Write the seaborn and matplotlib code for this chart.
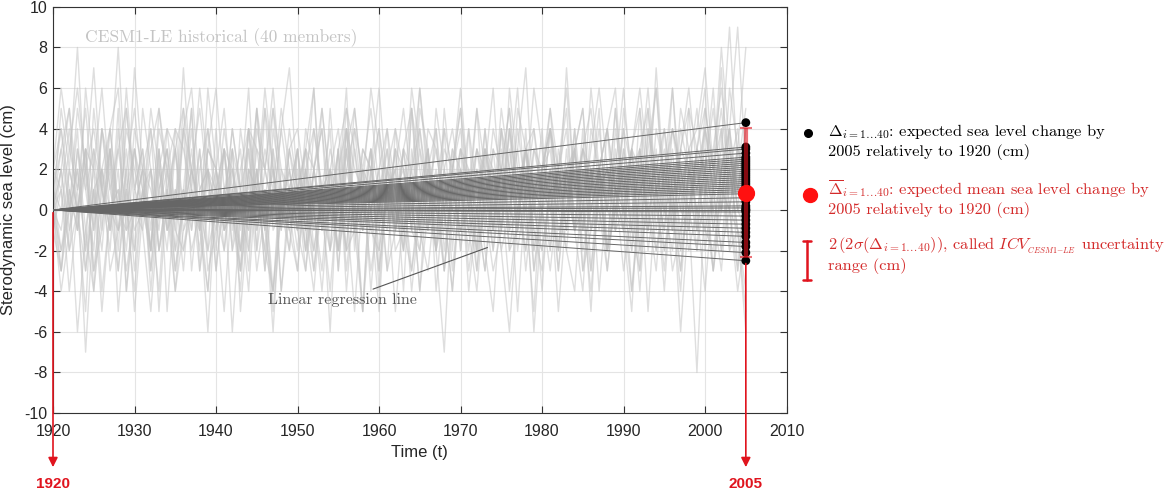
import numpy as np
import pandas as pd
import matplotlib
matplotlib.use("Agg")
import matplotlib.pyplot as plt
from matplotlib.lines import Line2D
import seaborn as sns

start_year = 1920
end_year = 2005

# rough annual sterodynamic sea level (cm) of the grey ensemble members, 1920..2005
members = [
    [0, 2, -1, 3, 1, -2, 4, 0, -3, 2, 5, 1, -2, 3, -1, 0, 4, -3, 1, 2, -2, 3, 0, -4, 2, 1, 5, -1, 0, 3, 1, -3, 2, 4, -2, 0, 3, -1, 2, -4, 1, 3, 0, -2, 5, 2, -1, 1, -3, 2, 4, 0, -2, 3, 1, -1, 6, 2, -3, 1, 0, 4, -2, 2, 3, -1, 1, 5, -2, 0, 3, 1, -4, 2, 6, 0, -1, 3, 2, -2, 4, 1, 7, 0, 3, 2],
    [1, -3, 2, 0, -5, 3, 1, -2, 4, -1, 0, 2, -4, 1, 3, -2, 0, 5, -3, 2, 1, -1, 3, -5, 0, 2, -3, 4, 1, -2, 3, 0, -2, 1, -6, 2, 4, -1, 0, 3, -3, 1, 2, -4, 3, 0, -1, 4, -2, 1, 2, -3, 0, 3, -1, 4, -2, 1, 0, -5, 2, 3, -1, 0, 4, -3, 1, 2, -2, 3, 0, -1, 5, -2, 1, 3, 0, -4, 2, 1, 3, -1, 2, 4, 0, 1],
    [2, 4, 1, -1, 6, 2, 0, 3, -2, 5, 1, 3, -1, 4, 2, 0, 7, 1, -2, 3, 2, 5, 0, 1, -3, 4, 2, 6, 1, 0, 3, -1, 2, 5, 1, -2, 4, 0, 3, 2, 6, 1, -1, 3, 2, 4, 0, -2, 5, 1, 3, 2, 0, 4, -1, 2, 5, 1, 3, 0, 4, -2, 2, 6, 1, 3, 0, 2, 4, -1, 5, 2, 3, 0, 7, 1, 4, 2, -1, 3, 5, 2, 8, 3, 1, 4],
    [-1, 1, -4, 0, 2, -3, -1, 3, -5, 0, -2, 1, -3, 2, 0, -4, 1, -1, 3, -2, 0, -5, 1, -2, 2, -3, 0, -6, 1, -1, -3, 2, 0, -4, 1, -2, 3, -1, -5, 0, 2, -3, -1, 1, -4, 0, 2, -2, -7, 1, -1, 0, -3, 2, -2, 1, -4, 0, 3, -1, -2, 1, -5, 0, 2, -3, -1, 1, -2, 0, 2, -4, 0, -1, 3, -2, 0, -3, 1, -1, 0, -3, 2, -2, -1, -4],
    [0, 3, 5, -1, 2, 7, 1, 4, 0, 3, -2, 5, 2, 0, 3, -1, 4, 6, 1, 2, 0, 3, -2, 4, 1, 5, 0, 2, -1, 3, 4, 1, 6, 0, 2, -3, 3, 5, 1, 0, 2, 4, -1, 3, 0, 6, 2, 1, 4, -2, 3, 0, 5, 2, -1, 4, 1, 3, 7, 0, 2, 4, 1, -2, 3, 5, 0, 2, 4, 1, -1, 3, 6, 2, 0, 4, 1, -2, 5, 3, 2, 6, 0, 4, 9, 2],
    [1, -2, 0, 4, -3, 1, 2, -1, 5, -4, 0, 2, -2, 3, -5, 1, 0, 4, -1, 2, -3, 1, 3, -2, 0, 5, -1, 2, -4, 1, 0, 3, -2, 1, 4, -3, 2, 0, -1, 3, -4, 2, 1, -2, 5, 0, 3, -1, 2, -3, 1, 4, -2, 0, 3, -1, 2, -5, 1, 4, 0, -2, 3, 1, -1, 4, -3, 2, 0, 5, -1, 2, -3, 4, 1, 0, -2, 3, 5, -1, 2, 0, 4, -2, 3, 1],
    [0, 5, 2, 8, 1, 3, -1, 4, 6, 0, 3, 1, -2, 5, 2, 4, 0, 3, -1, 6, 2, 0, 4, 1, 3, -2, 5, 2, 0, 4, 1, 3, 6, -1, 2, 4, 0, 5, 1, 3, -1, 2, 4, 0, 6, 3, 1, -2, 4, 2, 5, 0, 3, 1, -1, 4, 2, 6, 0, 3, 1, 5, 2, -1, 4, 0, 3, 6, 2, 1, 4, -1, 3, 5, 1, 2, 6, 0, 3, 4, 7, 2, 5, 1, 3, 8],
    [0, -3, 1, -6, -1, 2, -4, 0, 1, -2, 3, -1, -5, 0, 2, -3, 1, -2, 0, -4, 2, -1, 0, -3, 4, -2, 1, -5, 0, 2, -1, -3, 1, 0, -2, 3, -4, 1, -1, 0, -5, 2, 0, -1, -3, 1, 3, -2, 0, -4, 1, -2, 2, 0, -3, -1, 4, -2, 1, -6, 0, 2, -3, 1, -1, -4, 2, 0, -2, 1, -3, 0, 2, -5, 1, -1, 3, -2, 0, -8, 1, -3, 0, 2, -1, -5],
    [2, 1, 4, 0, 3, 2, 6, 1, -1, 4, 2, 0, 3, 5, 1, -2, 4, 2, 0, 3, 6, 1, 2, -1, 4, 3, 0, 5, 2, 1, 3, -2, 4, 1, 2, 0, 5, 3, -1, 2, 4, 1, 0, 3, 5, -1, 2, 4, 0, 3, 2, 1, 5, -1, 3, 2, 0, 4, 1, 6, 3, 0, 2, 4, -1, 3, 5, 1, 2, 0, 4, 2, -1, 3, 6, 1, 0, 4, 2, 5, 1, 3, 6, 2, 4, 0],
    [-1, 2, -2, 0, 3, -3, 1, -1, 2, -4, 1, 0, -2, 3, -1, 1, -3, 2, 0, -2, 4, -1, 0, -3, 2, 1, -2, 3, -4, 0, 1, -2, 2, -1, 0, 3, -3, 1, -5, 2, 0, -1, 3, -2, 1, -4, 2, 0, -1, 3, -2, 1, 0, -3, 2, -1, 3, 0, -2, 1, -4, 2, 1, -1, 3, -2, 0, 2, -3, 1, 0, -2, 3, -1, 1, -4, 2, 0, -1, 3, -2, 1, 0, 4, -3, 1],
    [1, 4, 0, 2, -2, 5, 1, 3, 0, -1, 4, 2, -3, 1, 3, 0, 5, -1, 2, 4, 0, -2, 3, 1, 6, -1, 2, 0, 4, 1, -2, 3, 0, 5, 1, -1, 2, 4, 0, 3, 1, -3, 4, 2, 0, 3, -1, 5, 2, 0, 3, 1, -2, 4, 0, 2, 5, -1, 3, 1, 0, 4, 2, -1, 3, 0, 6, 2, -2, 4, 1, 3, 0, 5, -1, 2, 4, 1, 0, 3, 6, -1, 2, 4, 1, 3],
    [0, -4, -1, 1, -7, 0, 2, -3, -1, 1, -5, 0, 2, -2, 1, -4, -1, 0, 3, -3, -1, 1, -6, 0, -2, 2, -1, -4, 1, 0, -3, 2, -1, 0, -4, 1, -2, 3, 0, -1, -2, 1, -5, 0, 2, -1, -3, 1, 0, -4, 2, -1, 0, -3, 1, -2, -6, 0, 2, -1, -3, 1, 0, -2, -4, 2, -1, 0, -3, 1, -1, -5, 2, 0, -2, 1, -3, -1, 2, 0, -4, 1, -2, 0, -3, 2],
    [2, 6, 3, 1, 5, 0, 4, 2, 8, 1, 3, 0, 5, 2, -1, 4, 3, 1, 6, 2, 0, 4, 1, 3, -2, 5, 2, 0, 4, 7, 1, 3, 2, -1, 5, 0, 4, 2, 1, 6, 3, 0, 2, 5, 1, -1, 4, 3, 0, 2, 6, 1, 3, 0, 4, 2, -1, 5, 3, 1, 2, 4, 0, 7, 1, 3, 2, -1, 4, 6, 0, 3, 5, 1, 2, 4, -1, 3, 6, 2, 4, 1, 3, 9, 2, 5],
    [0, 1, -2, 3, -1, -4, 2, 0, 1, -3, 0, -1, 2, -5, 1, 3, -2, 0, -1, 2, -3, 1, 0, -2, 3, -1, 1, -4, 2, 0, -1, 2, -3, 1, 0, -2, 4, -1, 1, -3, 0, 2, -1, 1, -3, 0, 3, -2, 1, -1, 2, -4, 0, 1, -2, 3, -1, 0, 2, -3, 1, 0, -2, 3, -1, 1, -5, 2, 0, -1, 3, -2, 1, 0, -3, 2, -1, 1, -2, 0, 2, -3, 1, 0, -1, -2],
    [1, 3, 0, 5, 2, -1, 4, 1, 3, 0, 7, 2, 1, -1, 4, 3, 0, 2, 5, 1, -1, 3, 2, 0, 4, 1, 6, 2, -1, 3, 0, 2, 4, 1, -2, 3, 5, 0, 2, 1, 4, 0, 3, -1, 2, 6, 1, 0, 3, 2, -2, 4, 1, 3, 0, 5, 2, -1, 3, 4, 1, 0, 2, 5, -1, 3, 1, 4, 0, 2, 6, 1, 3, -1, 4, 2, 0, 5, 3, 1, 4, 2, 0, 6, 3, 2],
    [-1, -3, 0, 2, -2, 1, -5, 0, -1, 2, -3, 1, 0, -4, 2, -1, -2, 1, 0, -6, 1, -1, 2, -3, 0, 1, -2, -4, 0, 2, -1, 0, -3, 1, 2, -2, 0, -5, 1, -1, 0, 3, -2, -1, 1, -4, 0, 2, -3, 1, -1, 0, 2, -2, -5, 1, 0, -1, 3, -2, 0, -3, 1, 2, -1, 0, -4, 1, -2, 0, 2, -1, -3, 1, 0, -2, 1, -6, 0, 2, -1, -2, 1, 0, -4, -1],
    [0, 2, 5, 1, 3, -1, 2, 4, 0, 6, 1, 3, -2, 2, 4, 0, 1, 5, -1, 3, 2, 0, 4, 1, -1, 3, 2, 5, 0, 1, 3, -1, 2, 4, 0, 1, 6, -2, 3, 2, 0, 4, 1, 2, -1, 5, 3, 0, 2, 4, 1, -1, 3, 2, 6, 0, 4, 1, -2, 3, 2, 5, 0, 1, 3, -1, 4, 2, 0, 5, 1, 3, -2, 4, 2, 0, 6, 1, 3, -1, 5, 2, 4, 0, 3, 1],
    [0, -2, 1, -1, 3, -4, 0, 2, -3, 1, -1, 0, 4, -2, 1, -3, 0, 2, -1, -4, 1, 3, -2, 0, -1, 2, -3, 1, 0, -2, 2, -1, -4, 1, 0, 3, -2, -1, 2, 0, -3, 1, 2, -1, 0, -2, 3, -4, 1, 0, -1, 2, -3, 1, 0, 2, -2, -1, 4, -3, 0, 1, -2, 2, -1, 0, -3, 1, 2, -1, 0, -4, 1, 2, -2, 0, 1, -3, 2, 0, -1, 1, -2, 3, 0, -1],
    [1, 0, 3, 6, 2, 4, 1, -1, 3, 5, 0, 2, 4, 1, -2, 3, 5, 2, 0, 4, 1, 3, -1, 2, 4, 0, 3, 1, 5, 2, -1, 4, 2, 0, 3, 1, -2, 4, 2, 5, 1, 0, 3, 2, -1, 4, 1, 3, 0, 2, 5, 1, -1, 3, 2, 0, 4, 1, 3, -2, 2, 4, 1, 0, 3, 5, -1, 2, 4, 1, 0, 3, 2, 6, 1, -1, 4, 2, 0, 3, 2, 5, 1, 3, 0, 4],
    [0, -1, 2, 0, -3, 1, -2, 3, -1, 0, -4, 1, 2, -2, 0, 3, -1, 1, -3, 0, 2, -2, 1, 0, -4, 2, -1, 3, 0, -1, 1, -2, 0, -3, 2, 1, -1, 0, -5, 2, -2, 1, 0, 3, -1, -2, 1, 0, -3, 2, 0, -1, -4, 1, 2, -2, 0, 3, -1, 0, -2, 1, -3, 2, 0, -1, 2, -4, 1, 0, -1, 3, -2, 0, 1, -3, 2, -1, 0, -2, 1, 0, -3, 2, -1, -6],
]

# change by 2005 relative to 1920 from each member's regression line (cm)
deltas = [4.3, 3.1, 3.0, 2.8, 2.6, 2.5, 2.4, 2.3, 2.2, 2.1, 2.0, 1.9, 1.8, 1.7,
          1.6, 1.5, 1.4, 1.3, 1.2, 1.1, 1.0, 0.9, 0.8, 0.6, 0.4, 0.2, 0.1, 0.0,
          0.0, -0.1, -0.3, -0.5, -0.7, -0.9, -1.1, -1.3, -1.6, -1.8, -2.1, -2.5]

x_ticks = list(range(1920, 2011, 10))
y_ticks = list(range(-10, 11, 2))

red = '#e0141e'
text_red = '#d42a2a'

sns.set_style("ticks")
plt.rcParams['font.family'] = ['Liberation Sans', 'DejaVu Sans']
plt.rcParams['mathtext.fontset'] = 'cm'
plt.rcParams['axes.unicode_minus'] = False

fig = plt.figure(figsize=(11.7, 4.9), dpi=100)
ax = fig.add_axes([0.0453, 0.157, 0.627, 0.829])

rows = []
for i, m in enumerate(members):
    for k, v in enumerate(m):
        rows.append((i, start_year + k, v))
df = pd.DataFrame(rows, columns=['member', 'year', 'ssl'])
sns.lineplot(data=df, x='year', y='ssl', units='member', estimator=None,
             color='#c4c4c4', alpha=0.55, lw=1.0, ax=ax, zorder=1)

reg = pd.DataFrame({
    'member': np.repeat(np.arange(len(deltas)), 2),
    'year': np.tile([start_year, end_year], len(deltas)),
    'ssl': np.ravel([[0.0, d] for d in deltas]),
})
sns.lineplot(data=reg, x='year', y='ssl', units='member', estimator=None,
             color='#666666', lw=0.7, ax=ax, zorder=3)

sns.scatterplot(x=[end_year] * len(deltas), y=deltas, color='black', s=40,
                edgecolor='none', ax=ax, zorder=4)

mean_d = np.mean(deltas)
sd_d = np.std(deltas, ddof=1)
ax.errorbar(end_year, mean_d, yerr=2 * sd_d, color=red, lw=3, capsize=4,
            capthick=1.5, alpha=0.6, zorder=5)
ax.scatter([end_year], [mean_d], s=130, color='#ff1010', zorder=6)

ax.set_xlim(1920, 2010)
ax.set_ylim(-10, 10)
ax.set_xticks(x_ticks)
ax.set_yticks(y_ticks)
ax.tick_params(direction='in', top=True, right=True, length=5, width=0.8,
               color='#333333', labelsize=11.5, pad=4)
ax.tick_params(axis='x', pad=8)
ax.grid(True, color='#e4e4e4', lw=0.8, zorder=0)
ax.set_axisbelow(True)
for s in ax.spines.values():
    s.set_color('#333333')
    s.set_linewidth(0.8)
ax.set_xlabel('Time (t)', fontsize=12, labelpad=4)
ax.set_ylabel('Sterodynamic sea level (cm)', fontsize=12, labelpad=6)

# red year arrows
ax.annotate('', xy=(start_year, -12.8), xytext=(start_year, 0),
            arrowprops=dict(arrowstyle='-|>', color=red, lw=1.2, mutation_scale=14),
            annotation_clip=False, zorder=7)
ax.text(start_year, -13.5, '1920', color=red, fontsize=11, fontweight='bold',
        ha='center', va='center', clip_on=False)
ax.annotate('', xy=(end_year, -12.8), xytext=(end_year, min(deltas)),
            arrowprops=dict(arrowstyle='-|>', color=red, lw=1.2, mutation_scale=14),
            annotation_clip=False, zorder=7)
ax.text(end_year, -13.5, '2005', color=red, fontsize=11, fontweight='bold',
        ha='center', va='center', clip_on=False)

ax.text(1923.9, 8.5, 'CESM1-LE historical (40 members)', color='#c4c4c4',
        fontsize=12.5, family='cmr10', ha='left', va='center', zorder=8)
ax.annotate('Linear regression line', xy=(1973.3, -1.85), xytext=(1964.6, -4.45),
            color='#555555', fontsize=11.5, family='cmr10', ha='right', va='center',
            arrowprops=dict(arrowstyle='-', color='#555555', lw=0.8,
                            shrinkA=2, shrinkB=0), zorder=8)

# legend-like annotations on the right
fs = 11.8
sub = '_{i{=}1{\\ldots}40}'
fig.add_artist(Line2D([0.6906], [0.7286], marker='o', color='black', ms=5.5,
                      transform=fig.transFigure))
fig.text(0.7077, 0.712,
         '$\\Delta' + sub + '$: expected sea level change by\n2005 relatively to 1920 (cm)',
         family='cmr10', fontsize=fs, color='black', va='center', ha='left',
         linespacing=1.2)
fig.add_artist(Line2D([0.6923], [0.602], marker='o', color='#ff1010', ms=10,
                      transform=fig.transFigure))
fig.text(0.7077, 0.596,
         '$\\overline{\\Delta}' + sub + '$: expected mean sea level change by\n2005 relatively to 1920 (cm)',
         family='cmr10', fontsize=fs, color=text_red, va='center', ha='left',
         linespacing=1.2)
fig.add_artist(Line2D([0.6897, 0.6897], [0.429, 0.508], color=red, lw=1.8,
                      transform=fig.transFigure))
for yy in (0.429, 0.508):
    fig.add_artist(Line2D([0.6862, 0.6932], [yy, yy], color=red, lw=1.8,
                          transform=fig.transFigure))
fig.text(0.7077, 0.480,
         '$2\\,(2\\sigma(\\Delta' + sub + '))$, called $ICV_{_{CESM1{-}LE}}$ uncertainty\nrange (cm)',
         family='cmr10', fontsize=fs, color=text_red, va='center', ha='left',
         linespacing=1.2)

fig.savefig('out.png', dpi=100)
